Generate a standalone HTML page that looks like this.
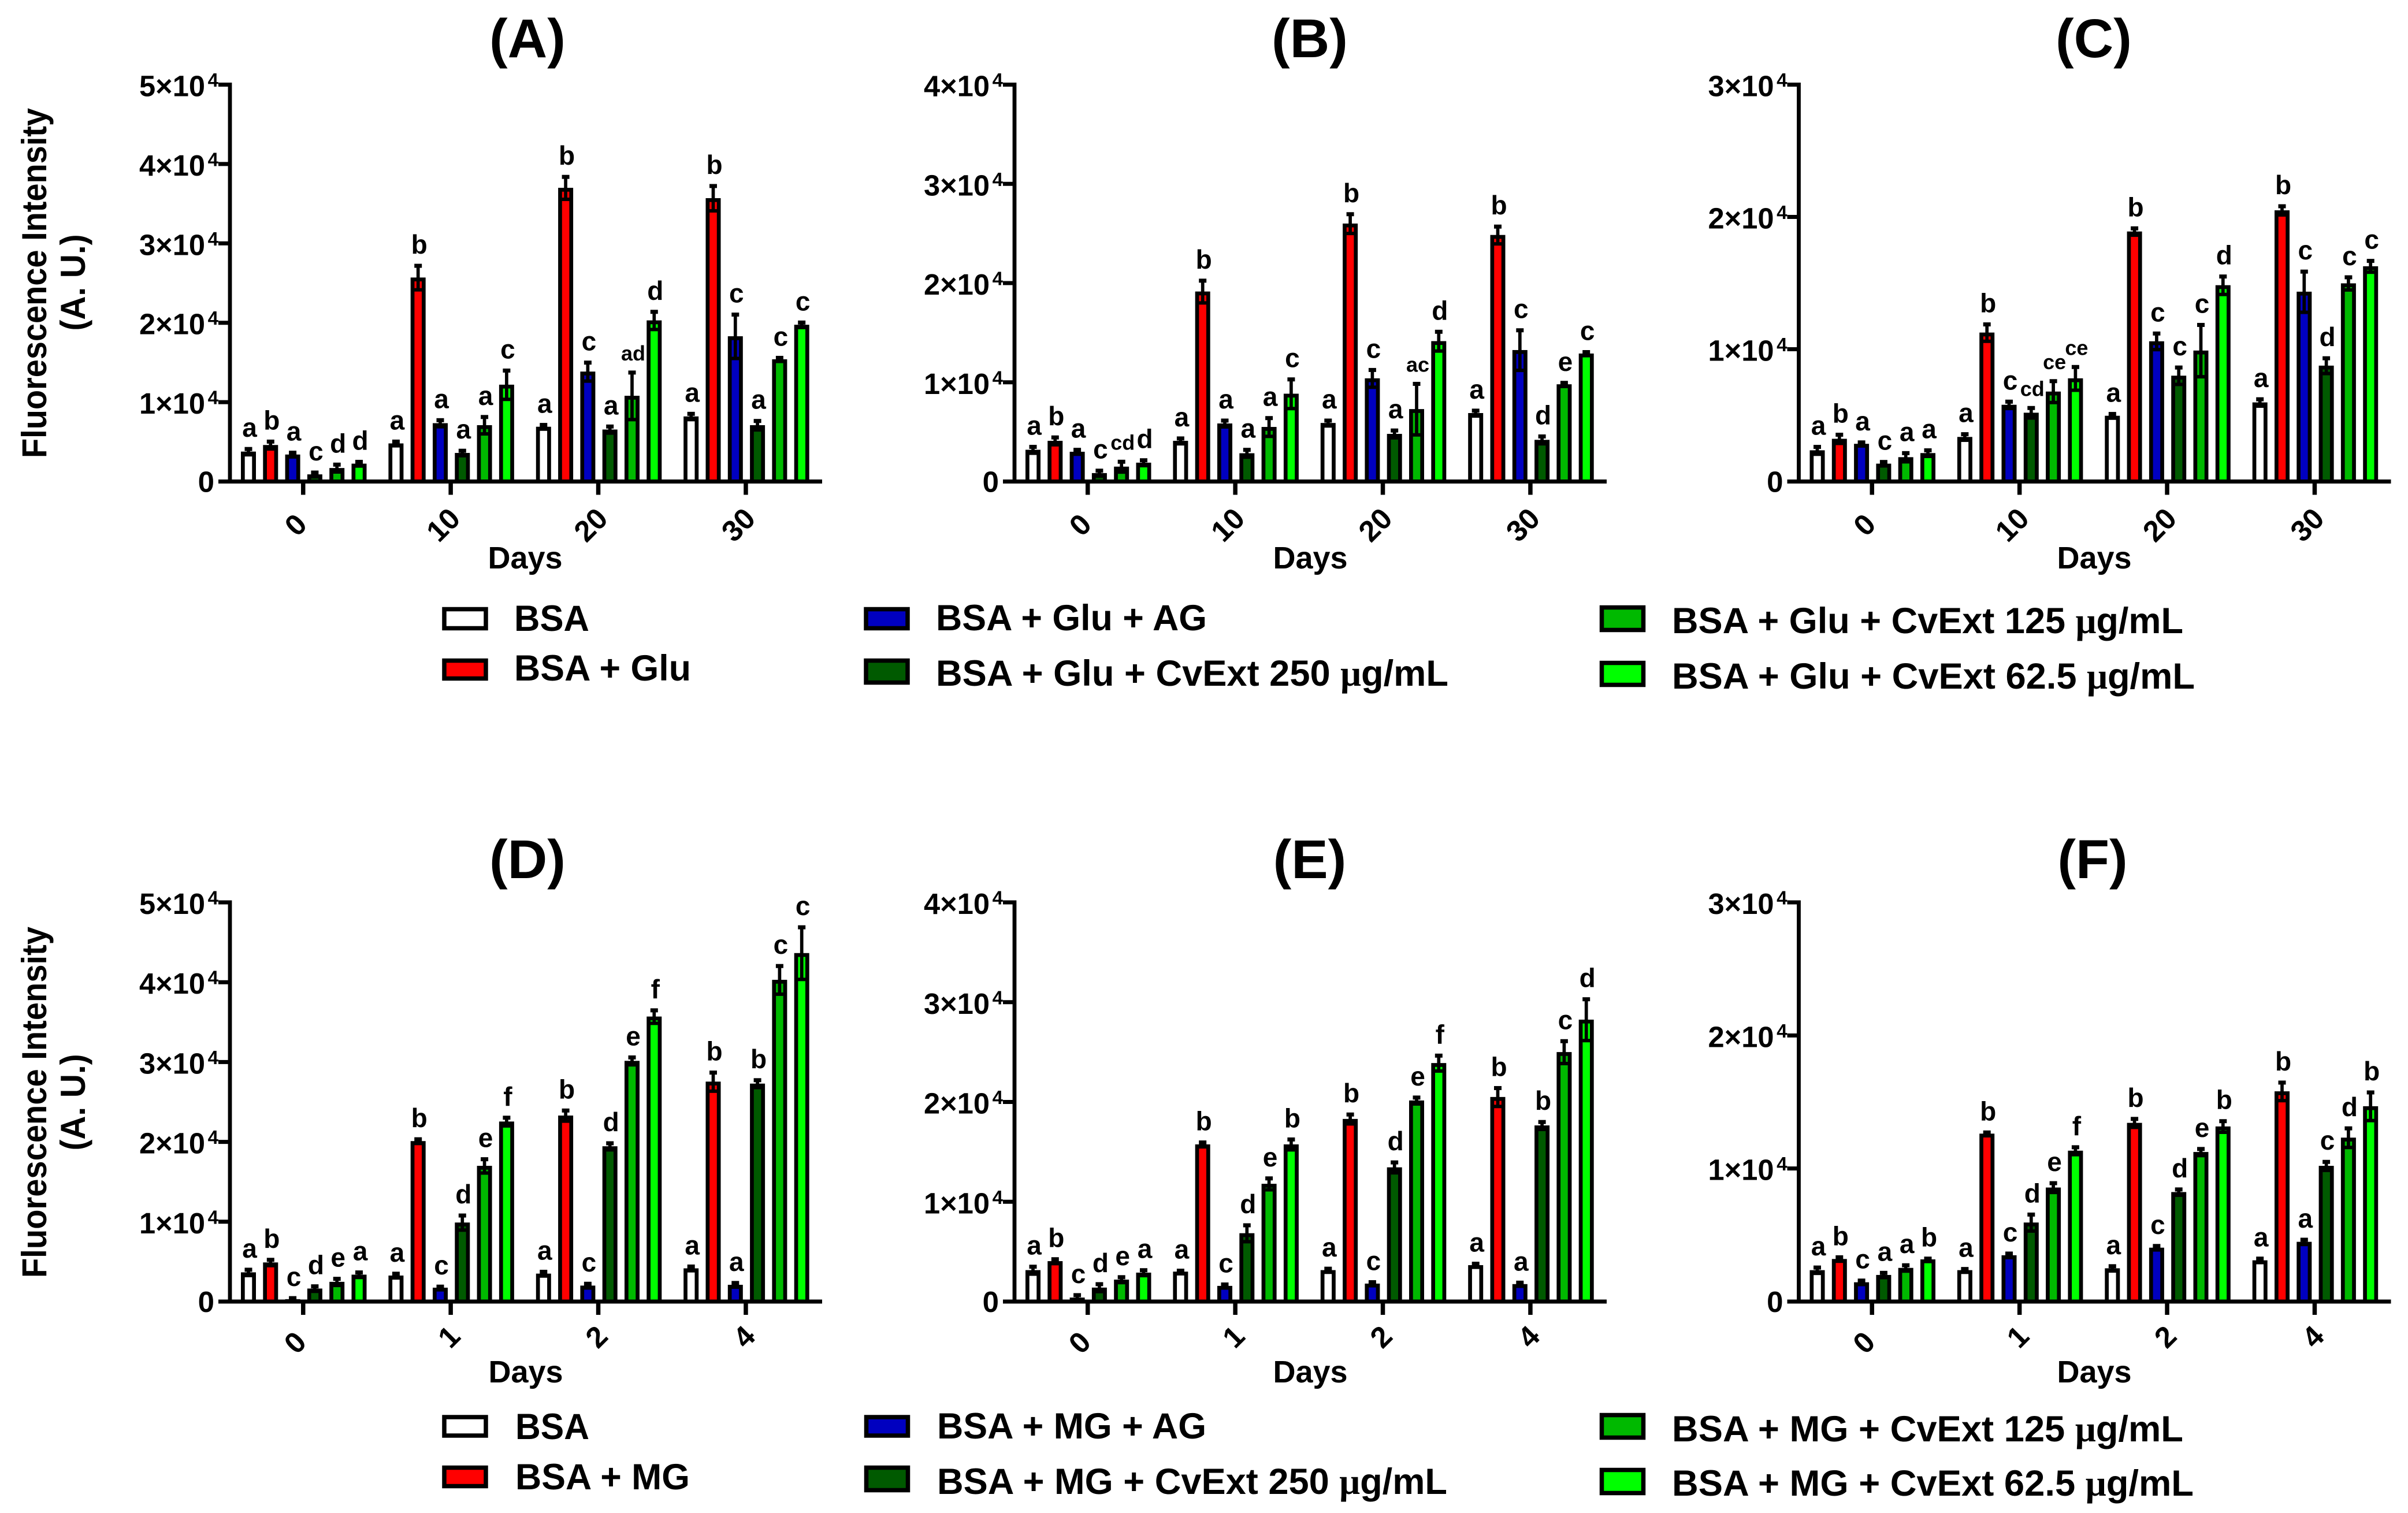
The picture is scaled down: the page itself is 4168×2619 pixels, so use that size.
<!DOCTYPE html>
<html lang="en">
<head>
<meta charset="utf-8">
<title>Fluorescence intensity of BSA glycation panels</title>
<style>
html,body{margin:0;padding:0;background:#fff;}
svg{display:block;}
text{font-family:"Liberation Sans",Arial,sans-serif;font-weight:700;fill:#000;}
.mu{font-family:"Liberation Serif",serif;}
.leg{font-size:63px;}
.title{font-size:95px;text-anchor:middle;}
.ytitle{font-size:60px;text-anchor:middle;}
.days{font-size:54px;text-anchor:middle;}
</style>
</head>
<body>
<svg id="figure" xmlns="http://www.w3.org/2000/svg" width="4168" height="2619" viewBox="0 0 4168 2619">
  <rect x="0" y="0" width="4168" height="2619" fill="#fff"/>

  <g id="panel-a">
    <text class="title" x="913" y="99">(A)</text>
    <text class="ytitle" transform="translate(80 490) rotate(-90)" textLength="606" lengthAdjust="spacingAndGlyphs">Fluorescence Intensity</text>
    <text class="ytitle" transform="translate(147 489) rotate(-90)" textLength="167" lengthAdjust="spacingAndGlyphs">(A. U.)</text>
    <text class="days" x="909" y="984">Days</text>
  </g>
  <g id="panel-b">
    <text class="title" x="2267" y="99">(B)</text>
    <text class="days" x="2268" y="984">Days</text>
  </g>
  <g id="panel-c">
    <text class="title" x="3624" y="99">(C)</text>
    <text class="days" x="3625" y="984">Days</text>
  </g>
  <g id="panel-d">
    <text class="title" x="913" y="1520">(D)</text>
    <text class="ytitle" transform="translate(80 1908) rotate(-90)" textLength="608" lengthAdjust="spacingAndGlyphs">Fluorescence Intensity</text>
    <text class="ytitle" transform="translate(147 1908) rotate(-90)" textLength="167" lengthAdjust="spacingAndGlyphs">(A. U.)</text>
    <text class="days" x="910" y="2393">Days</text>
  </g>
  <g id="panel-e">
    <text class="title" x="2267" y="1520">(E)</text>
    <text class="days" x="2268" y="2393">Days</text>
  </g>
  <g id="panel-f">
    <text class="title" x="3622" y="1520">(F)</text>
    <text class="days" x="3625" y="2393">Days</text>
  </g>

  <g stroke-linejoin="miter">
    <g>
      <rect x="769" y="1054.5" width="72" height="33" fill="#fff" stroke="#000" stroke-width="7.5"/>
      <text class="leg" x="890" y="1092" textLength="130" lengthAdjust="spacingAndGlyphs">BSA</text>
    </g>
    <g>
      <rect x="769" y="1143.5" width="72" height="31" fill="#ff0000" stroke="#000" stroke-width="7.5"/>
      <text class="leg" x="890" y="1178" textLength="306" lengthAdjust="spacingAndGlyphs">BSA + Glu</text>
    </g>
    <g>
      <rect x="1499" y="1054.5" width="72" height="33" fill="#0000c0" stroke="#000" stroke-width="7.5"/>
      <text class="leg" x="1620" y="1091" textLength="469" lengthAdjust="spacingAndGlyphs">BSA + Glu + AG</text>
    </g>
    <g>
      <rect x="1499" y="1143.5" width="72" height="38" fill="#005a00" stroke="#000" stroke-width="7.5"/>
      <text class="leg" x="1620" y="1187" textLength="887" lengthAdjust="spacingAndGlyphs">BSA + Glu + CvExt 250 <tspan class="mu">μ</tspan>g/mL</text>
    </g>
    <g>
      <rect x="2772.5" y="1051.5" width="72" height="39" fill="#00b900" stroke="#000" stroke-width="7.5"/>
      <text class="leg" x="2894" y="1096" textLength="885" lengthAdjust="spacingAndGlyphs">BSA + Glu + CvExt 125 <tspan class="mu">μ</tspan>g/mL</text>
    </g>
    <g>
      <rect x="2772.5" y="1147.5" width="72" height="38" fill="#00ff00" stroke="#000" stroke-width="7.5"/>
      <text class="leg" x="2894" y="1192" textLength="905" lengthAdjust="spacingAndGlyphs">BSA + Glu + CvExt 62.5 <tspan class="mu">μ</tspan>g/mL</text>
    </g>
  </g>

  <g stroke-linejoin="miter">
    <g>
      <rect x="769" y="2453" width="72" height="32" fill="#fff" stroke="#000" stroke-width="7.5"/>
      <text class="leg" x="892" y="2491" textLength="128" lengthAdjust="spacingAndGlyphs">BSA</text>
    </g>
    <g>
      <rect x="769" y="2540.5" width="72" height="32" fill="#ff0000" stroke="#000" stroke-width="7.5"/>
      <text class="leg" x="892" y="2578" textLength="302" lengthAdjust="spacingAndGlyphs">BSA + MG</text>
    </g>
    <g>
      <rect x="1499.5" y="2453" width="72" height="32" fill="#0000c0" stroke="#000" stroke-width="7.5"/>
      <text class="leg" x="1622" y="2490" textLength="466" lengthAdjust="spacingAndGlyphs">BSA + MG + AG</text>
    </g>
    <g>
      <rect x="1499.5" y="2540.5" width="72" height="39" fill="#005a00" stroke="#000" stroke-width="7.5"/>
      <text class="leg" x="1622" y="2586" textLength="883" lengthAdjust="spacingAndGlyphs">BSA + MG + CvExt 250 <tspan class="mu">μ</tspan>g/mL</text>
    </g>
    <g>
      <rect x="2772.5" y="2449.5" width="72" height="39" fill="#00b900" stroke="#000" stroke-width="7.5"/>
      <text class="leg" x="2894" y="2495" textLength="885" lengthAdjust="spacingAndGlyphs">BSA + MG + CvExt 125 <tspan class="mu">μ</tspan>g/mL</text>
    </g>
    <g>
      <rect x="2772.5" y="2544.5" width="72" height="40" fill="#00ff00" stroke="#000" stroke-width="7.5"/>
      <text class="leg" x="2894" y="2589" textLength="903" lengthAdjust="spacingAndGlyphs">BSA + MG + CvExt 62.5 <tspan class="mu">μ</tspan>g/mL</text>
    </g>
  </g>
</svg>

<script>
// Values in units of 10^4 A.U.; rows are day groups, columns are the six series.
const seriesKeys = ['bsa', 'inducer', 'ag', 'cvext-250', 'cvext-125', 'cvext-62-5'];
const seriesColors = ['#ffffff', '#ff0000', '#0000c0', '#005a00', '#00b900', '#00ff00'];

const daysGlu = ['0', '10', '20', '30'];
const daysMg = ['0', '1', '2', '4'];

const yTicksA = [0, 1, 2, 3, 4, 5];
const yTicksB = [0, 1, 2, 3, 4];
const yTicksC = [0, 1, 2, 3];

const aValues = [
  [0.377, 0.46, 0.34, 0.09, 0.17, 0.225],
  [0.48, 2.57, 0.735, 0.36, 0.71, 1.22],
  [0.69, 3.70, 1.385, 0.655, 1.08, 2.03],
  [0.82, 3.57, 1.83, 0.71, 1.54, 1.975]
];
const aErrors = [
  [0.04, 0.05, 0.03, 0.03, 0.05, 0.03],
  [0.03, 0.155, 0.045, 0.035, 0.11, 0.185],
  [0.03, 0.145, 0.12, 0.045, 0.30, 0.115],
  [0.04, 0.16, 0.28, 0.06, 0.025, 0.035]
];
const aLetters = [
  ['a', 'b', 'a', 'c', 'd', 'd'],
  ['a', 'b', 'a', 'a', 'a', 'c'],
  ['a', 'b', 'c', 'a', 'ad', 'd'],
  ['a', 'b', 'c', 'a', 'c', 'c']
];

const bValues = [
  [0.32, 0.41, 0.30, 0.085, 0.15, 0.19],
  [0.41, 1.915, 0.585, 0.285, 0.55, 0.885],
  [0.59, 2.60, 1.04, 0.48, 0.73, 1.415],
  [0.69, 2.485, 1.325, 0.42, 0.98, 1.29]
];
const bErrors = [
  [0.035, 0.04, 0.025, 0.03, 0.055, 0.03],
  [0.03, 0.115, 0.035, 0.04, 0.095, 0.15],
  [0.03, 0.10, 0.09, 0.04, 0.26, 0.10],
  [0.03, 0.09, 0.205, 0.04, 0.02, 0.02]
];
const bLetters = [
  ['a', 'b', 'a', 'c', 'cd', 'd'],
  ['a', 'b', 'a', 'a', 'a', 'c'],
  ['a', 'b', 'c', 'a', 'ac', 'd'],
  ['a', 'b', 'c', 'd', 'e', 'c']
];

const cValues = [
  [0.236, 0.323, 0.285, 0.135, 0.184, 0.215],
  [0.337, 1.126, 0.58, 0.52, 0.68, 0.78],
  [0.497, 1.89, 1.06, 0.80, 0.99, 1.484],
  [0.598, 2.05, 1.435, 0.876, 1.498, 1.627]
];
const cErrors = [
  [0.03, 0.035, 0.015, 0.017, 0.035, 0.025],
  [0.025, 0.066, 0.028, 0.04, 0.083, 0.09],
  [0.018, 0.028, 0.063, 0.066, 0.198, 0.07],
  [0.028, 0.035, 0.156, 0.06, 0.05, 0.045]
];
const cLetters = [
  ['a', 'b', 'a', 'c', 'a', 'a'],
  ['a', 'b', 'c', 'cd', 'ce', 'ce'],
  ['a', 'b', 'c', 'c', 'c', 'd'],
  ['a', 'b', 'c', 'd', 'c', 'c']
];

const dValues = [
  [0.366, 0.49, 0.03, 0.163, 0.247, 0.337],
  [0.326, 2.01, 0.174, 0.99, 1.70, 2.255],
  [0.35, 2.33, 0.20, 1.945, 3.015, 3.57],
  [0.416, 2.755, 0.21, 2.73, 4.03, 4.365]
];
const dErrors = [
  [0.04, 0.04, 0.02, 0.035, 0.045, 0.035],
  [0.03, 0.03, 0.02, 0.095, 0.09, 0.055],
  [0.03, 0.07, 0.03, 0.045, 0.05, 0.085],
  [0.03, 0.12, 0.03, 0.05, 0.18, 0.33]
];
const dLetters = [
  ['a', 'b', 'c', 'd', 'e', 'a'],
  ['a', 'b', 'c', 'd', 'e', 'f'],
  ['a', 'b', 'c', 'd', 'e', 'f'],
  ['a', 'b', 'a', 'b', 'c', 'c']
];

const eValues = [
  [0.315, 0.405, 0.04, 0.14, 0.22, 0.29],
  [0.30, 1.575, 0.157, 0.685, 1.18, 1.575],
  [0.315, 1.83, 0.18, 1.345, 2.015, 2.39],
  [0.365, 2.05, 0.175, 1.765, 2.50, 2.825]
];
const eErrors = [
  [0.04, 0.025, 0.03, 0.04, 0.03, 0.03],
  [0.015, 0.025, 0.02, 0.085, 0.06, 0.055],
  [0.02, 0.05, 0.02, 0.055, 0.035, 0.08],
  [0.02, 0.095, 0.02, 0.04, 0.115, 0.21]
];
const eLetters = [
  ['a', 'b', 'c', 'd', 'e', 'a'],
  ['a', 'b', 'c', 'd', 'e', 'b'],
  ['a', 'b', 'c', 'd', 'e', 'f'],
  ['a', 'b', 'a', 'b', 'c', 'd']
];

const fValues = [
  [0.236, 0.32, 0.145, 0.20, 0.253, 0.317],
  [0.236, 1.262, 0.348, 0.594, 0.857, 1.134],
  [0.25, 1.343, 0.405, 0.823, 1.124, 1.316],
  [0.31, 1.58, 0.449, 1.02, 1.232, 1.468]
];
const fErrors = [
  [0.024, 0.017, 0.017, 0.02, 0.024, 0.01],
  [0.013, 0.013, 0.017, 0.064, 0.037, 0.03],
  [0.02, 0.034, 0.017, 0.024, 0.027, 0.044],
  [0.017, 0.07, 0.02, 0.034, 0.074, 0.108]
];
const fLetters = [
  ['a', 'b', 'c', 'a', 'a', 'b'],
  ['a', 'b', 'c', 'd', 'e', 'f'],
  ['a', 'b', 'c', 'd', 'e', 'b'],
  ['a', 'b', 'a', 'c', 'd', 'b']
];

const NS = 'http://www.w3.org/2000/svg';

function make(parent, tag, attrs, content) {
  const node = document.createElementNS(NS, tag);
  for (const k in attrs) node.setAttribute(k, attrs[k]);
  if (content !== undefined) node.textContent = content;
  parent.appendChild(node);
  return node;
}

function drawPanel(id, axisX, yTop, yZero, yTicks, days, values, errors, letters, lowerRow) {
  const root = document.getElementById('panel-' + id);
  const yMax = yTicks[yTicks.length - 1];
  const yScale = function (v) { return yZero - (v / yMax) * (yZero - yTop); };
  const groupStep = 255.4;
  const barStep = 38.3;
  const firstBar = 32;
  const xScale = function (g, s) { return axisX + firstBar + g * groupStep + s * barStep; };
  const tickX = function (g) { return xScale(g, 2.5) - 1; };

  values.forEach(function (row, g) {
    row.forEach(function (v, s) {
      const cx = xScale(g, s);
      const err = errors[g][s];

      const bar = make(root, 'rect', {
        x: cx - 9.65, y: yScale(v) + 3.35, width: 19.3, height: Math.max(yZero - yScale(v) - 3.35, 0),
        fill: seriesColors[s], stroke: '#000', 'stroke-width': 6.7
      });
      
      

      const stem = make(root, 'line', {
        x1: cx, x2: cx, y1: yScale(v - err), y2: yScale(v + err), stroke: '#000', 'stroke-width': 5.7
      });
      
      

      const capTop = make(root, 'line', {
        x1: cx - 6.5, x2: cx + 6.5, y1: yScale(v + err) + 1, y2: yScale(v + err) + 1, stroke: '#000', 'stroke-width': 7
      });
      
      

      const capBottom = make(root, 'line', {
        x1: cx - 6.5, x2: cx + 6.5, y1: yScale(v - err), y2: yScale(v - err), stroke: '#000', 'stroke-width': 6
      });
      
      

      const word = letters[g][s];
      const letter = make(root, 'text', {
        x: cx + 2, y: yScale(v + err) - 20, 'text-anchor': 'middle',
        'font-size': word.length > 1 ? 36 : 46
      }, word);
      
      
    });
  });

  const yAxis = make(root, 'line', { x1: axisX, x2: axisX, y1: yTop - 3.5, y2: yZero + 3.5, stroke: '#000', 'stroke-width': 6.8 });
  
  

  const xAxis = make(root, 'line', { x1: axisX - 20, x2: axisX + 1025, y1: yZero, y2: yZero, stroke: '#000', 'stroke-width': 7 });
  
  

  yTicks.forEach(function (t) {
    const y = yScale(t);
    const tick = make(root, 'line', { x1: axisX - 20, x2: axisX, y1: y, y2: y, stroke: '#000', 'stroke-width': 7 });
    
    

    if (t === 0) {
      const zero = make(root, 'text', { x: axisX - 27, y: y + 18, 'text-anchor': 'end', 'font-size': 51 }, '0');
      
      
    } else {
      const main = make(root, 'text', {
        x: axisX - 43, y: y + 20, 'text-anchor': 'end', 'font-size': 51,
        textLength: 114, lengthAdjust: 'spacingAndGlyphs'
      }, t + '×10');
      
      
      const sup = make(root, 'text', { x: axisX - 20, y: y + 3.5, 'text-anchor': 'end', 'font-size': 33 }, '4');
      
      
    }
  });

  days.forEach(function (d, g) {
    const x = tickX(g);
    const tick = make(root, 'line', { x1: x, x2: x, y1: yZero, y2: yZero + 23, stroke: '#000', 'stroke-width': 7.5 });
    
    

    let dx = -13;
    let dy = 75;
    if (lowerRow) {
      dx = d === '0' ? -14 : -3;
      dy = d === '0' ? 71 : 61;
    }
    const label = make(root, 'text', {
      'text-anchor': 'middle', 'font-size': 51, 'dominant-baseline': 'central',
      transform: 'translate(' + (x + dx) + ' ' + (yZero + dy) + ') rotate(-45)'
    }, d);
    
    
  });
}

const axisLeft = 398;
const axisMiddle = 1756;
const axisRight = 3113.5;
const topRow = [146.5, 833.5];
const bottomRow = [1562, 2253];

drawPanel('a', axisLeft, topRow[0], topRow[1], yTicksA, daysGlu, aValues, aErrors, aLetters, false);
drawPanel('b', axisMiddle, topRow[0], topRow[1], yTicksB, daysGlu, bValues, bErrors, bLetters, false);
drawPanel('c', axisRight, topRow[0], topRow[1], yTicksC, daysGlu, cValues, cErrors, cLetters, false);
drawPanel('d', axisLeft, bottomRow[0], bottomRow[1], yTicksA, daysMg, dValues, dErrors, dLetters, true);
drawPanel('e', axisMiddle, bottomRow[0], bottomRow[1], yTicksB, daysMg, eValues, eErrors, eLetters, true);
drawPanel('f', axisRight, bottomRow[0], bottomRow[1], yTicksC, daysMg, fValues, fErrors, fLetters, true);
</script>
</body>
</html>
